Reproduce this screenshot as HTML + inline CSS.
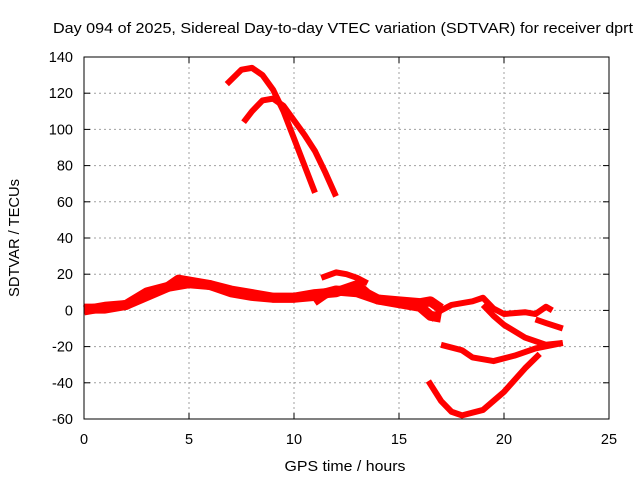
<!DOCTYPE html>
<html><head><meta charset="utf-8"><style>
body{margin:0;background:#fff}
svg{display:block;font-family:"Liberation Sans",sans-serif}
</style></head><body>
<svg width="640" height="480">
<text x="343" y="33" text-anchor="middle" font-size="15" textLength="580" lengthAdjust="spacingAndGlyphs">Day 094 of 2025, Sidereal Day-to-day VTEC variation (SDTVAR) for receiver dprt</text>
<text x="345" y="471" text-anchor="middle" font-size="15" textLength="121" lengthAdjust="spacingAndGlyphs">GPS time / hours</text>
<text transform="translate(19,238) rotate(-90)" text-anchor="middle" font-size="15" textLength="118" lengthAdjust="spacingAndGlyphs">SDTVAR / TECUs</text>
<g id="grid"></g>
<g id="axes"></g>
<g id="series"></g>
<rect x="84" y="57" width="525" height="362" fill="none" stroke="#000"/>
</svg>
<script>
const xTicks=[0,5,10,15,20,25];
const yTicks=[-60,-40,-20,0,20,40,60,80,100,120,140];
const s1=[[0,0],[1,2],[2,3],[3,8],[4,13],[5,15],[6,14],[7,11],[8,9],[9,7],[10,7],[11,8],[12,11],[13,10],[14,6],[15,4],[16,2],[16.5,-3],[17,-4]];
const s1b=[[0,1],[1,1],[2,3],[3,10],[4,13],[4.5,17],[6,14],[7,10],[8,8],[9,7],[10,7],[11,9],[12,10],[13,14],[13.5,9],[14,6],[15,5],[16,4],[16.5,5],[17,1]];
const s2=[[6.8,125],[7.5,133],[8,134],[8.5,130],[9,122],[9.5,110],[10,95],[10.5,80],[11,65]];
const s3=[[7.6,104],[8,110],[8.5,116],[9,117],[9.5,113],[10,105],[10.5,97],[11,88],[11.5,76],[12,63]];
const s4=[[11.3,18],[12,21],[12.5,20],[13,18],[13.5,15]];
const s5=[[11,4],[11.5,8],[12,11],[12.5,12],[13,15],[13.3,16]];
const s6=[[16.5,-5],[17,0],[17.5,3],[18.5,5],[19,7],[19.5,1],[20,-2],[21,-1],[21.5,-2],[22,2],[22.3,0]];
const s7=[[19,3],[19.5,-3],[20,-8],[21,-15],[22,-19],[22.8,-18]];
const s8=[[21.5,-5],[22,-7],[22.8,-10]];
const s9=[[17,-19],[18,-22],[18.5,-26],[19.5,-28],[20.5,-25],[21.5,-21],[22.8,-18]];
const s10=[[16.4,-39],[17,-50],[17.5,-56],[18,-58],[19,-55],[20,-45],[21,-32],[21.7,-24]];
const allSeries=[s1,s1b,s2,s3,s4,s5,s6,s7,s8,s9,s10];
const X0=84,X1=609,Y0=419,Y1=57;
const sx=v=>X0+(v-0)/(25-0)*(X1-X0);
const sy=v=>Y0-(v+60)/200*(Y0-Y1);
const NS="http://www.w3.org/2000/svg";
const grid=document.getElementById('grid'),axes=document.getElementById('axes'),ser=document.getElementById('series');
function mk(tag,attrs,parent){const e=document.createElementNS(NS,tag);for(const k in attrs)e.setAttribute(k,attrs[k]);parent.appendChild(e);return e;}
xTicks.forEach(t=>{
 const x=sx(t);
 if(t>0&&t<25){const g=mk('line',{x1:x,x2:x,y1:Y1,y2:Y0,stroke:'#a0a0a0','stroke-dasharray':'2,3'},grid);}
 mk('line',{x1:x,x2:x,y1:Y0,y2:Y0-6,stroke:'#000'},axes);
 mk('line',{x1:x,x2:x,y1:Y1,y2:Y1+6,stroke:'#000'},axes);
 const l=mk('text',{x:x,y:444,'text-anchor':'middle','font-size':'14.5'},axes);l.textContent=t;
 
 
});
yTicks.forEach(t=>{
 const y=sy(t);
 if(t>-60&&t<140){const g=mk('line',{x1:X0,x2:X1,y1:y,y2:y,stroke:'#a0a0a0','stroke-dasharray':'2,3'},grid);}
 mk('line',{x1:X0,x2:X0+6,y1:y,y2:y,stroke:'#000'},axes);
 mk('line',{x1:X1,x2:X1-6,y1:y,y2:y,stroke:'#000'},axes);
 const l=mk('text',{x:73,y:y+5,'text-anchor':'end','font-size':'14.5'},axes);l.textContent=t;
 
 
});
allSeries.forEach((s,i)=>{
 const p=mk('polyline',{points:s.map(d=>sx(d[0])+','+sy(d[1])).join(' '),fill:'none',stroke:'#ff0000','stroke-width':(i<2?10:6),'stroke-linejoin':'round','stroke-linecap':'butt'},ser);
 
 
});
</script>
</body></html>
